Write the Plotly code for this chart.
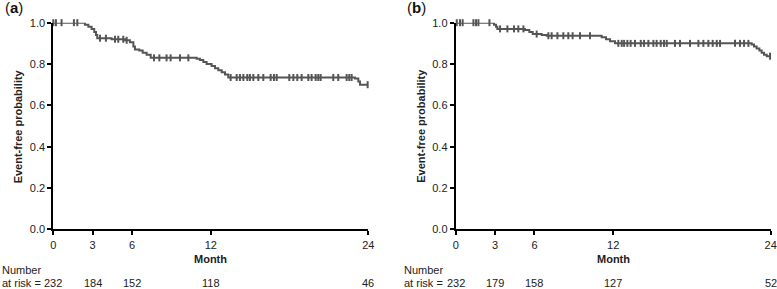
import numpy as np
import plotly.graph_objects as go

# ---------------- data ----------------
# Panel (a) Kaplan-Meier step function
a_times = [0, 2.41, 2.67, 2.92, 3.12, 3.25, 3.35, 4.44, 5.46, 5.84, 6.10, 6.22, 6.55, 6.81,
           7.11, 7.42, 10.92, 11.17, 11.43, 11.68, 12.06, 12.32, 12.57, 12.83, 13.08, 13.33,
           22.98, 23.24, 23.37, 24.0]
a_surv = [1.0, 0.99, 0.98, 0.97, 0.955, 0.94, 0.925, 0.92, 0.915, 0.905, 0.885, 0.87, 0.865, 0.855,
          0.845, 0.83, 0.825, 0.82, 0.81, 0.80, 0.79, 0.78, 0.77, 0.76, 0.75, 0.735,
          0.73, 0.715, 0.70, 0.70]
a_censor = [0.0, 0.2, 0.63, 1.57, 1.83, 3.56, 4.01, 4.70, 4.95, 5.33, 5.59, 7.67, 8.08, 8.63, 8.94,
            9.65, 10.29, 13.51, 13.97, 14.22, 14.48, 14.78, 14.98, 15.24, 15.62, 16.0, 16.56,
            16.81, 17.02, 17.98, 18.29, 18.59, 18.92, 19.43, 19.68, 19.99, 20.19, 20.37, 21.33,
            21.71, 22.35, 22.55, 22.73, 23.95]

# Panel (b)
b_times = [0, 2.92, 3.07, 3.17, 5.28, 5.61, 5.87, 6.55, 6.93, 11.12, 11.45, 11.76, 12.14,
           22.55, 22.73, 22.93, 23.14, 23.31, 23.49, 23.70, 24.0]
b_surv = [1.0, 0.99, 0.98, 0.97, 0.965, 0.955, 0.945, 0.94, 0.937, 0.93, 0.92, 0.91, 0.90,
          0.895, 0.885, 0.875, 0.865, 0.855, 0.845, 0.838, 0.838]
b_censor = [0.08, 0.33, 0.53, 1.35, 1.55, 1.73, 2.57, 3.38, 3.94, 4.44, 4.77, 5.16, 6.17, 7.06,
            7.31, 7.75, 8.2, 8.58, 8.91, 9.47, 10.23, 12.39, 12.65, 12.83, 13.08, 13.33, 13.66,
            14.10, 14.35, 14.68, 15.06, 15.31, 15.62, 15.87, 16.08, 16.71, 17.09, 17.85, 18.49,
            18.87, 19.25, 19.58, 19.89, 20.14, 21.28, 21.66, 21.97, 22.30, 23.95]

risk_times = [0, 3, 6, 12, 24]
a_risk = [232, 184, 152, 118, 46]
b_risk = [232, 179, 158, 127, 52]

x_ticks = [0, 3, 6, 12, 24]
y_ticks = [0.0, 0.2, 0.4, 0.6, 0.8, 1.0]
panel_labels = ["a", "b"]

# ---------------- figure ----------------
W, H = 777, 289
FONT = "Liberation Sans, Arial, Helvetica, sans-serif"
LINE = "#555555"


def step_value(times, surv, t):
    idx = np.searchsorted(np.array(times), t, side="right") - 1
    return [surv[i] for i in idx]


fig = go.Figure()
panels = [
    (a_times, a_surv, a_censor, "x", "y"),
    (b_times, b_surv, b_censor, "x2", "y2"),
]
for times, surv, cens, xa, ya in panels:
    fig.add_trace(go.Scatter(x=times, y=surv, mode="lines", line=dict(color=LINE, width=2, shape="hv"),
                             xaxis=xa, yaxis=ya, showlegend=False, hoverinfo="skip", cliponaxis=False))
    fig.add_trace(go.Scatter(x=cens, y=step_value(times, surv, cens), mode="markers",
                             marker=dict(symbol="line-ns", size=5, line=dict(color=LINE, width=2)),
                             xaxis=xa, yaxis=ya, showlegend=False, hoverinfo="skip", cliponaxis=False))

xdoms = [[53.3 / W, 368.3 / W], [455.7 / W, 770.7 / W]]
ydom = [1 - 229.4 / H, 1 - 22.7 / H]

common_x = dict(range=[0, 24], tickvals=x_ticks, ticks="outside", ticklen=4, tickwidth=1.5,
                tickcolor="black", showline=True, linecolor="black", linewidth=2, showgrid=False,
                zeroline=False, automargin=False, tickfont=dict(family=FONT, size=11, color="#222"))
common_y = dict(range=[0, 1], tickvals=y_ticks, tickformat=".1f", ticks="outside", ticklen=4,
                tickwidth=1.5, tickcolor="black", showline=True, linecolor="black", linewidth=2,
                showgrid=False, zeroline=False, automargin=False,
                tickfont=dict(family=FONT, size=11, color="#222"))

fig.update_layout(
    width=W, height=H, margin=dict(l=0, r=0, t=0, b=0, autoexpand=False),
    paper_bgcolor="white", plot_bgcolor="white",
    xaxis=dict(domain=xdoms[0], anchor="y", **common_x),
    yaxis=dict(domain=ydom, anchor="x", **common_y),
    xaxis2=dict(domain=xdoms[1], anchor="y2", **common_x),
    yaxis2=dict(domain=ydom, anchor="x2", **common_y),
)

ann = []
for i, (xd, risks, lab) in enumerate(zip(xdoms, [a_risk, b_risk], panel_labels)):
    xr = "x" if i == 0 else "x2"
    left_px = xd[0] * W
    # axis titles
    ann.append(dict(text="<b>Month</b>", xref=xr, x=12, yref="paper", y=1 - 259 / H,
                    showarrow=False, font=dict(family=FONT, size=11, color="#222"),
                    xanchor="center", yanchor="middle"))
    ann.append(dict(text="<b>Event-free probability</b>", xref="paper", x=(left_px - 35) / W,
                    yref="paper", y=(ydom[0] + ydom[1]) / 2, textangle=-90, showarrow=False,
                    font=dict(family=FONT, size=11, color="#222"), xanchor="center", yanchor="middle"))
    # panel label
    ann.append(dict(text="(<b>%s</b>)" % lab, xref="paper", x=(left_px - 39) / W, yref="paper",
                    y=1 - 8 / H, showarrow=False, font=dict(family=FONT, size=15, color="#111"),
                    xanchor="center", yanchor="middle"))
    # number at risk
    ann.append(dict(text="Number", xref="paper", x=(left_px - 53.3) / W, yref="paper", y=1 - 270 / H,
                    showarrow=False, font=dict(family=FONT, size=11, color="#222"),
                    xanchor="left", yanchor="middle"))
    ann.append(dict(text="at risk =", xref="paper", x=(left_px - 53.3) / W, yref="paper", y=1 - 282.5 / H,
                    showarrow=False, font=dict(family=FONT, size=11, color="#222"),
                    xanchor="left", yanchor="middle"))
    for t, r in zip(risk_times, risks):
        ann.append(dict(text=str(r), xref=xr, x=t, yref="paper", y=1 - 282.5 / H, showarrow=False,
                        font=dict(family=FONT, size=11, color="#222"), xanchor="center", yanchor="middle"))

fig.update_layout(annotations=ann)
fig.write_html(
    "out.html",
    config={"displayModeBar": False},
    post_script="document.body.style.margin='0';document.body.style.padding='0';"
                "document.body.style.overflow='hidden';",
)
